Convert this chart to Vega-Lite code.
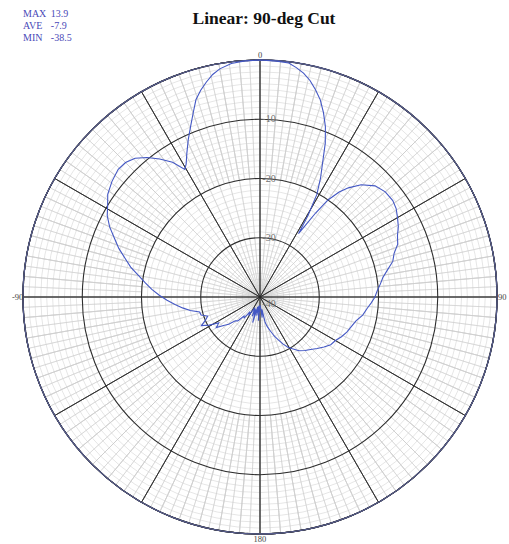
{
  "$schema": "https://vega.github.io/schema/vega-lite/v6.json",
  "width": 474,
  "height": 474,
  "autosize": {"type": "none"},
  "padding": {"left": 23, "top": 60, "right": 12, "bottom": 10},
  "background": "white",
  "config": {"view": {"stroke": null}},
  "title": {"text": "Linear: 90-deg Cut", "font": "Liberation Serif", "fontSize": 17.5, "fontWeight": "bold", "color": "#111111", "anchor": "middle", "frame": "group", "offset": -18, "dx": 4},
  "datasets": {
    "s12": [{"w":1},{"w":1},{"w":1},{"w":1},{"w":1},{"w":1},{"w":1},{"w":1},{"w":1},{"w":1},{"w":1},{"w":1}],
    "s72": [{"w":1},{"w":1},{"w":1},{"w":1},{"w":1},{"w":1},{"w":1},{"w":1},{"w":1},{"w":1},{"w":1},{"w":1},{"w":1},{"w":1},{"w":1},{"w":1},{"w":1},{"w":1},{"w":1},{"w":1},{"w":1},{"w":1},{"w":1},{"w":1},{"w":1},{"w":1},{"w":1},{"w":1},{"w":1},{"w":1},{"w":1},{"w":1},{"w":1},{"w":1},{"w":1},{"w":1},{"w":1},{"w":1},{"w":1},{"w":1},{"w":1},{"w":1},{"w":1},{"w":1},{"w":1},{"w":1},{"w":1},{"w":1},{"w":1},{"w":1},{"w":1},{"w":1},{"w":1},{"w":1},{"w":1},{"w":1},{"w":1},{"w":1},{"w":1},{"w":1},{"w":1},{"w":1},{"w":1},{"w":1},{"w":1},{"w":1},{"w":1},{"w":1},{"w":1},{"w":1},{"w":1},{"w":1}],
    "s144": [{"w":1},{"w":1},{"w":1},{"w":1},{"w":1},{"w":1},{"w":1},{"w":1},{"w":1},{"w":1},{"w":1},{"w":1},{"w":1},{"w":1},{"w":1},{"w":1},{"w":1},{"w":1},{"w":1},{"w":1},{"w":1},{"w":1},{"w":1},{"w":1},{"w":1},{"w":1},{"w":1},{"w":1},{"w":1},{"w":1},{"w":1},{"w":1},{"w":1},{"w":1},{"w":1},{"w":1},{"w":1},{"w":1},{"w":1},{"w":1},{"w":1},{"w":1},{"w":1},{"w":1},{"w":1},{"w":1},{"w":1},{"w":1},{"w":1},{"w":1},{"w":1},{"w":1},{"w":1},{"w":1},{"w":1},{"w":1},{"w":1},{"w":1},{"w":1},{"w":1},{"w":1},{"w":1},{"w":1},{"w":1},{"w":1},{"w":1},{"w":1},{"w":1},{"w":1},{"w":1},{"w":1},{"w":1},{"w":1},{"w":1},{"w":1},{"w":1},{"w":1},{"w":1},{"w":1},{"w":1},{"w":1},{"w":1},{"w":1},{"w":1},{"w":1},{"w":1},{"w":1},{"w":1},{"w":1},{"w":1},{"w":1},{"w":1},{"w":1},{"w":1},{"w":1},{"w":1},{"w":1},{"w":1},{"w":1},{"w":1},{"w":1},{"w":1},{"w":1},{"w":1},{"w":1},{"w":1},{"w":1},{"w":1},{"w":1},{"w":1},{"w":1},{"w":1},{"w":1},{"w":1},{"w":1},{"w":1},{"w":1},{"w":1},{"w":1},{"w":1},{"w":1},{"w":1},{"w":1},{"w":1},{"w":1},{"w":1},{"w":1},{"w":1},{"w":1},{"w":1},{"w":1},{"w":1},{"w":1},{"w":1},{"w":1},{"w":1},{"w":1},{"w":1},{"w":1},{"w":1},{"w":1},{"w":1},{"w":1},{"w":1}],
    "fineRings": [{"db":-39},{"db":-38},{"db":-37},{"db":-36},{"db":-35},{"db":-34},{"db":-33},{"db":-32},{"db":-31},{"db":-29},{"db":-28},{"db":-27},{"db":-26},{"db":-25},{"db":-24},{"db":-23},{"db":-22},{"db":-21},{"db":-19},{"db":-18},{"db":-17},{"db":-16},{"db":-15},{"db":-14},{"db":-13},{"db":-12},{"db":-11},{"db":-9},{"db":-8},{"db":-7},{"db":-6},{"db":-5},{"db":-4},{"db":-3},{"db":-2},{"db":-1}],
    "majorRings": [{"db":-30},{"db":-20},{"db":-10}],
    "ringLabels": [{"db":-10,"t":"-10"},{"db":-20,"t":"-20"},{"db":-30,"t":"-30"}],
    "angleLabels": [{"a":0,"t":"0"},{"a":90,"t":"90"},{"a":180,"t":"180"},{"a":270,"t":"-90"}],
    "pattern": [
      {"a":-180,"db":-38.6},{"a":-176,"db":-36.0},{"a":-173,"db":-38.5},{"a":-170,"db":-36.8},{"a":-167,"db":-38.3},{"a":-164,"db":-35.5},{"a":-161,"db":-37.8},{"a":-158,"db":-36.5},{"a":-155,"db":-38.0},{"a":-152,"db":-37.6},{"a":-149,"db":-36.3},{"a":-146,"db":-37.0},{"a":-143,"db":-35.6},{"a":-140,"db":-35.8},{"a":-137,"db":-34.5},{"a":-134,"db":-34.2},{"a":-131,"db":-33.0},{"a":-128,"db":-32.2},{"a":-125,"db":-31.0},{"a":-122,"db":-31.8},{"a":-119,"db":-30.2},{"a":-116,"db":-29.0},{"a":-113,"db":-30.0},{"a":-110,"db":-30.6},{"a":-107,"db":-29.6},{"a":-104,"db":-29.5},{"a":-101,"db":-28.0},{"a":-98,"db":-26.8},{"a":-95,"db":-25.6},{"a":-92,"db":-24.3},{"a":-89,"db":-23.0},{"a":-86,"db":-21.7},{"a":-83,"db":-20.5},{"a":-80,"db":-19.2},{"a":-77,"db":-17.6},{"a":-74,"db":-16.3},{"a":-71,"db":-14.8},{"a":-68,"db":-13.5},{"a":-65,"db":-12.0},{"a":-62,"db":-10.8},{"a":-59,"db":-10.0},{"a":-56,"db":-9.0},{"a":-52,"db":-8.3},{"a":-48,"db":-7.8},{"a":-45,"db":-7.9},{"a":-42,"db":-8.5},{"a":-39,"db":-9.7},{"a":-36,"db":-11.2},{"a":-33,"db":-12.9},{"a":-30.5,"db":-15.0},{"a":-29,"db":-14.3},{"a":-27,"db":-12.8},{"a":-24.5,"db":-10.8},{"a":-22,"db":-8.8},{"a":-20,"db":-7.0},{"a":-18,"db":-5.0},{"a":-16,"db":-3.7},{"a":-14,"db":-2.6},{"a":-12,"db":-1.6},{"a":-10,"db":-0.9},{"a":-7,"db":-0.3},{"a":-4,"db":-0.1},{"a":0,"db":0.0},{"a":4,"db":-0.1},{"a":7,"db":-0.2},{"a":9,"db":-0.8},{"a":11,"db":-1.5},{"a":13,"db":-2.5},{"a":15,"db":-3.8},{"a":17,"db":-5.2},{"a":19,"db":-7.1},{"a":21,"db":-9.2},{"a":23,"db":-11.8},{"a":25,"db":-15.0},{"a":27,"db":-17.5},{"a":29,"db":-20.2},{"a":30.5,"db":-24.0},{"a":31.3,"db":-27.5},{"a":32.3,"db":-25.8},{"a":33.5,"db":-23.0},{"a":35,"db":-20.0},{"a":37,"db":-17.8},{"a":39,"db":-16.3},{"a":42,"db":-14.5},{"a":46,"db":-13.0},{"a":50,"db":-12.4},{"a":54,"db":-12.3},{"a":57,"db":-12.6},{"a":60,"db":-13.2},{"a":63,"db":-13.8},{"a":66,"db":-14.6},{"a":69,"db":-15.1},{"a":72,"db":-16.2},{"a":75,"db":-16.8},{"a":78,"db":-18.0},{"a":81,"db":-19.0},{"a":84,"db":-19.6},{"a":87,"db":-20.2},{"a":90,"db":-20.6},{"a":93,"db":-21.2},{"a":96,"db":-21.8},{"a":100,"db":-22.4},{"a":104,"db":-23.3},{"a":108,"db":-23.8},{"a":112,"db":-24.2},{"a":116,"db":-24.7},{"a":120,"db":-25.3},{"a":124,"db":-25.6},{"a":128,"db":-26.3},{"a":132,"db":-27.0},{"a":136,"db":-27.7},{"a":140,"db":-28.2},{"a":144,"db":-28.8},{"a":148,"db":-29.7},{"a":151,"db":-30.3},{"a":154,"db":-31.2},{"a":157,"db":-32.2},{"a":160,"db":-33.0},{"a":163,"db":-34.0},{"a":166,"db":-34.8},{"a":168.5,"db":-35.6},{"a":171,"db":-37.9},{"a":174,"db":-36.5},{"a":177,"db":-38.2},{"a":180,"db":-38.6}
    ]
  },
  "resolve": {"scale": {"theta": "independent", "radius": "independent"}},
  "layer": [
    {
      "data": {"name": "s72"},
      "mark": {"type": "arc", "fill": "transparent", "stroke": "#cdcdcd", "strokeWidth": 0.5},
      "encoding": {
        "theta": {"field": "w", "type": "quantitative", "stack": true},
        "radius": {"datum": 0, "type": "quantitative", "scale": {"type": "linear", "domain": [-40, 0], "range": [0, 237], "zero": false, "nice": false}},
        "radius2": {"datum": -40}
      }
    },
    {
      "data": {"name": "s144"},
      "mark": {"type": "arc", "fill": "transparent", "stroke": "#cdcdcd", "strokeWidth": 0.5},
      "encoding": {
        "theta": {"field": "w", "type": "quantitative", "stack": true},
        "radius": {"datum": 0, "type": "quantitative", "scale": {"type": "linear", "domain": [-40, 0], "range": [0, 237], "zero": false, "nice": false}},
        "radius2": {"datum": -20}
      }
    },
    {
      "data": {"name": "fineRings"},
      "mark": {"type": "arc", "fill": "transparent", "stroke": "#cdcdcd", "strokeWidth": 0.5, "theta": 0, "theta2": 6.2832},
      "encoding": {
        "radius": {"field": "db", "type": "quantitative", "stack": null, "scale": {"type": "linear", "domain": [-40, 0], "range": [0, 237], "zero": false, "nice": false}}
      }
    },
    {
      "data": {"name": "s12"},
      "mark": {"type": "arc", "fill": "transparent", "stroke": "#2a2a2a", "strokeWidth": 0.8},
      "encoding": {
        "theta": {"field": "w", "type": "quantitative", "stack": true},
        "radius": {"datum": 0, "type": "quantitative", "scale": {"type": "linear", "domain": [-40, 0], "range": [0, 237], "zero": false, "nice": false}},
        "radius2": {"datum": -40}
      }
    },
    {
      "data": {"name": "majorRings"},
      "mark": {"type": "arc", "fill": "transparent", "stroke": "#2e2e2e", "strokeWidth": 1.1, "theta": 0, "theta2": 6.2832},
      "encoding": {
        "radius": {"field": "db", "type": "quantitative", "stack": null, "scale": {"type": "linear", "domain": [-40, 0], "range": [0, 237], "zero": false, "nice": false}}
      }
    },
    {
      "data": {"values": [{"db": 0}]},
      "mark": {"type": "arc", "fill": "transparent", "stroke": "#565c8c", "strokeWidth": 1.3, "theta": 0, "theta2": 6.2832},
      "encoding": {
        "radius": {"field": "db", "type": "quantitative", "stack": null, "scale": {"type": "linear", "domain": [-40, 0], "range": [0, 237], "zero": false, "nice": false}}
      }
    },
    {
      "data": {"name": "ringLabels"},
      "mark": {"type": "text", "font": "Liberation Serif", "fontSize": 10, "color": "#6f6f6f", "dx": 9, "align": "center", "baseline": "middle"},
      "encoding": {
        "theta": {"datum": 0, "type": "quantitative", "stack": null, "scale": {"domain": [0, 360], "range": [0, 6.2832]}},
        "radius": {"field": "db", "type": "quantitative", "stack": null, "scale": {"type": "linear", "domain": [-40, 0], "range": [0, 237], "zero": false, "nice": false}},
        "text": {"field": "t"}
      }
    },
    {
      "data": {"values": [{"t": "-40"}]},
      "mark": {"type": "text", "font": "Liberation Serif", "fontSize": 10, "color": "#6f6f6f", "dx": 9, "dy": 7, "align": "center", "baseline": "middle"},
      "encoding": {
        "text": {"field": "t"}
      }
    },
    {
      "data": {"name": "angleLabels"},
      "mark": {"type": "text", "font": "Liberation Serif", "fontSize": 8.5, "color": "#444444", "align": "center", "baseline": "middle"},
      "encoding": {
        "theta": {"field": "a", "type": "quantitative", "stack": null, "scale": {"domain": [0, 360], "range": [0, 6.2832]}},
        "radius": {"datum": 0.9, "type": "quantitative", "stack": null, "scale": {"type": "linear", "domain": [-40, 0], "range": [0, 237], "zero": false, "nice": false}},
        "text": {"field": "t"}
      }
    },
    {
      "data": {"name": "pattern"},
      "transform": [
        {"calculate": "(datum.db + 40) * sin(datum.a * PI / 180)", "as": "px"},
        {"calculate": "(datum.db + 40) * cos(datum.a * PI / 180)", "as": "py"}
      ],
      "mark": {"type": "line", "color": "#4357c4", "strokeWidth": 1.1, "interpolate": "linear"},
      "encoding": {
        "x": {"field": "px", "type": "quantitative", "scale": {"domain": [-40, 40], "nice": false, "zero": false}, "axis": null},
        "y": {"field": "py", "type": "quantitative", "scale": {"domain": [-40, 40], "nice": false, "zero": false}, "axis": null},
        "order": {"field": "a", "type": "quantitative"}
      }
    },
    {
      "data": {"values": [{}]},
      "mark": {"type": "text", "text": ["MAX", "AVE", "MIN"], "font": "Liberation Serif", "fontSize": 10, "lineHeight": 12, "color": "#4a4ab8", "align": "left", "baseline": "top"},
      "encoding": {
        "x": {"datum": -40, "type": "quantitative", "scale": {"domain": [-40, 40], "nice": false, "zero": false}, "axis": null},
        "y": {"datum": 48.6, "type": "quantitative", "scale": {"domain": [-40, 40], "nice": false, "zero": false}, "axis": null}
      }
    },
    {
      "data": {"values": [{}]},
      "mark": {"type": "text", "text": ["13.9", "-7.9", "-38.5"], "font": "Liberation Serif", "fontSize": 10, "lineHeight": 12, "color": "#4a4ab8", "align": "left", "baseline": "top"},
      "encoding": {
        "x": {"datum": -35.3, "type": "quantitative", "scale": {"domain": [-40, 40], "nice": false, "zero": false}, "axis": null},
        "y": {"datum": 48.6, "type": "quantitative", "scale": {"domain": [-40, 40], "nice": false, "zero": false}, "axis": null}
      }
    }
  ]
}
